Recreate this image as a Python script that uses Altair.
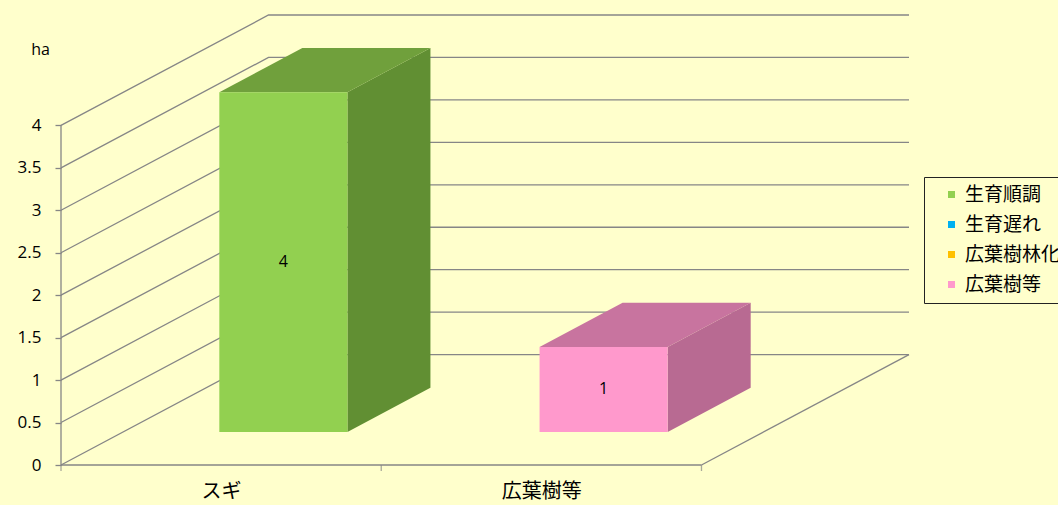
import json
import altair as alt
import pandas as pd

# ---------------- data ----------------
categories = ["スギ", "広葉樹等"]
series = ["生育順調", "生育遅れ", "広葉樹林化", "広葉樹等"]
values_seichou = [4, 0]      # 生育順調
values_okure = [0, 0]        # 生育遅れ
values_rinka = [0, 0]        # 広葉樹林化
values_kouyou = [0, 1]       # 広葉樹等
series_values = [values_seichou, values_okure, values_rinka, values_kouyou]
y_ticks = [0, 0.5, 1, 1.5, 2, 2.5, 3, 3.5, 4]
y_unit = "ha"

# ---------------- style ----------------
front_colors = ["#92D050", "#00B0F0", "#FFC000", "#FF99CC"]
side_colors = ["#618F33", "#0078A8", "#B88A00", "#B86A92"]
top_colors = ["#70A03C", "#0092C8", "#D09C00", "#C8749F"]
BG = "#FFFFCC"
GRID = "#868686"
JP = "Noto Sans CJK JP"
NUM = "Open Sans"

BAR_LO, BAR_HI = 0.3, 0.7      # bar span inside a category
D_FRONT, D_BACK = 0.3, 0.7     # bar depth span
DX, DY = 0.648, 1.3            # oblique depth vector (category units, value units)

n = len(categories)
ymax = max(y_ticks)

# ---------------- geometry from data ----------------
grid_rows = []
for k, v in enumerate(y_ticks):
    grid_rows += [
        {"gid": f"g{k}", "o": 0, "x": 0.0, "y": v},
        {"gid": f"g{k}", "o": 1, "x": DX, "y": v + DY},
        {"gid": f"g{k}", "o": 2, "x": n + DX, "y": v + DY},
    ]
grid_rows += [
    {"gid": "front", "o": 0, "x": 0.0, "y": 0.0},
    {"gid": "front", "o": 1, "x": float(n), "y": 0.0},
    {"gid": "right", "o": 0, "x": float(n), "y": 0.0},
    {"gid": "right", "o": 1, "x": n + DX, "y": DY},
    {"gid": "yaxis", "o": 0, "x": 0.0, "y": 0.0},
    {"gid": "yaxis", "o": 1, "x": 0.0, "y": ymax},
]
grid_df = pd.DataFrame(grid_rows)

xtick_df = pd.DataFrame({"x": [float(i) for i in range(n + 1)], "y": [0.0] * (n + 1)})

fronts, sides, tops, labels = [], [], [], []
for ci, cat in enumerate(categories):
    base = 0
    for si, s in enumerate(series):
        val = series_values[si][ci]
        if val == 0:
            continue
        b, t = base, base + val
        base = t
        fid = f"{ci}-{si}"
        x0, x1 = ci + BAR_LO, ci + BAR_HI
        fronts.append({"series": s, "x": x0 + D_FRONT * DX, "x2": x1 + D_FRONT * DX,
                       "y": b + D_FRONT * DY, "y2": t + D_FRONT * DY})
        for d in (D_FRONT, D_BACK):
            sides.append({"fid": fid, "fill": side_colors[si], "x": x1 + d * DX,
                          "y": t + d * DY, "y2": b + d * DY})
            tops.append({"fid": fid, "fill": top_colors[si], "y": t + d * DY,
                         "x": x0 + d * DX, "x2": x1 + d * DX})
        labels.append({"x": (x0 + x1) / 2 + D_FRONT * DX, "y": (b + t) / 2 + D_FRONT * DY,
                       "label": f"{val:g}"})

front_df = pd.DataFrame(fronts)
side_df = pd.DataFrame(sides)
top_df = pd.DataFrame(tops)
label_df = pd.DataFrame(labels)

# ---------------- encodings ----------------
x_scale = alt.Scale(domain=[0, n + DX], nice=False, zero=False)
y_scale = alt.Scale(domain=[0, ymax + DY], nice=False, zero=False)

x_axis = alt.Axis(values=[i + 0.5 for i in range(n)],
                  labelExpr=f"{json.dumps(categories, ensure_ascii=False)}[floor(datum.value)]",
                  ticks=False, tickSize=0, domain=False, grid=False, title=None,
                  labelFont=JP, labelFontSize=20, labelColor="#000", labelPadding=16)
y_axis = alt.Axis(values=y_ticks, format="~g", grid=False, domain=False,
                  tickSize=6, tickColor=GRID, tickWidth=1.3,
                  labelFont=NUM, labelFontSize=17, labelColor="#000", labelPadding=14,
                  title=y_unit, titleAngle=0, titleX=-21, titleY=34,
                  titleAlign="center", titleBaseline="middle",
                  titleFont=NUM, titleFontSize=16, titleFontWeight="normal", titleColor="#000")

X = alt.X("x:Q", scale=x_scale, axis=x_axis)
Y = alt.Y("y:Q", scale=y_scale, axis=y_axis)

grid = alt.Chart(grid_df).mark_line(color=GRID, strokeWidth=1.3).encode(
    x=X, y=Y, detail="gid:N", order="o:Q")

xticks = alt.Chart(xtick_df).mark_tick(orient="vertical", size=6, thickness=1.3,
                                        color=GRID, yOffset=3).encode(x=X, y=Y)

side = alt.Chart(side_df).mark_area(orient="vertical", interpolate="linear").encode(
    x=X, y=Y, y2="y2:Q", detail="fid:N", color=alt.Color("fill:N", scale=None))

top = alt.Chart(top_df).mark_area(orient="horizontal", interpolate="linear").encode(
    y=Y, x=X, x2="x2:Q", detail="fid:N", color=alt.Color("fill:N", scale=None))

front = alt.Chart(front_df).mark_rect().encode(
    x=X, x2="x2:Q", y=Y, y2="y2:Q",
    color=alt.Color("series:N",
                    scale=alt.Scale(domain=series, range=front_colors),
                    legend=alt.Legend(title=None, orient="none", legendX=863, legendY=162,
                                      direction="vertical", symbolType="square",
                                      symbolSize=49, symbolStrokeWidth=0,
                                      labelFont=JP, labelFontSize=19, labelColor="#000",
                                      rowPadding=10, padding=8, symbolOffset=10,
                                      labelOffset=4, strokeColor="#222", fillColor=BG)))

text = alt.Chart(label_df).mark_text(font=NUM, fontSize=16, color="#000").encode(
    x=X, y=Y, text="label:N")

chart = alt.layer(grid, xticks, side, top, front, text).properties(
    width=848, height=450,
    autosize=alt.AutoSizeParams(type="none"),
    padding={"left": 61, "top": 15, "right": 149, "bottom": 40},
    background=BG,
).configure_view(strokeWidth=0)

chart.save("out.html", embed_options={"renderer": "svg", "actions": False})
